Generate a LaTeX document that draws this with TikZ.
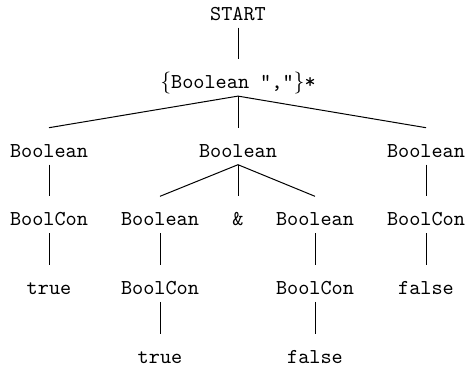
\documentclass[tikz,border=0pt]{standalone}
\usetikzlibrary{calc}
\begin{document}
\begin{tikzpicture}[x=0.5pt,y=-0.5pt,
  lab/.style={inner sep=0pt, anchor=base, font=\fontsize{10.6}{12}\selectfont\ttfamily},
  conn/.style={line width=0.5pt}]
\useasboundingbox (0,0) rectangle (465,371);
% row baselines
\def\ra{20}\def\rb{88.6}\def\rc{157.2}\def\rd{225.8}\def\re{294.4}\def\rf{363}
\node[lab] (start) at (238,\ra) {START};
\node[lab] (set) at (238,\rb) {$\{$Boolean ","$\}$*};
\node[lab] (b1) at (49,\rc) {Boolean};
\node[lab] (b2) at (238,\rc) {Boolean};
\node[lab] (b3) at (426,\rc) {Boolean};
\node[lab] (bc1) at (49,\rd) {BoolCon};
\node[lab] (b21) at (160,\rd) {Boolean};
\node[lab] (amp) at (238,\rd) {\&};
\node[lab] (b22) at (315,\rd) {Boolean};
\node[lab] (bc3) at (426,\rd) {BoolCon};
\node[lab] (t1) at (49,\re) {true};
\node[lab] (bc21) at (160,\re) {BoolCon};
\node[lab] (bc22) at (315,\re) {BoolCon};
\node[lab] (f3) at (426,\re) {false};
\node[lab] (t2) at (160,\rf) {true};
\node[lab] (f2) at (315,\rf) {false};
\newcommand\treeedge[2]{\draw[conn] ($(#1.base)+(0,7.5)$) -- ($(#2.base)+(0,-29.5)$);}
\treeedge{start}{set}
\treeedge{set}{b1}
\treeedge{set}{b2}
\treeedge{set}{b3}
\treeedge{b1}{bc1}
\treeedge{b2}{b21}
\treeedge{b2}{amp}
\treeedge{b2}{b22}
\treeedge{b3}{bc3}
\treeedge{bc1}{t1}
\treeedge{b21}{bc21}
\treeedge{b22}{bc22}
\treeedge{bc3}{f3}
\treeedge{bc21}{t2}
\treeedge{bc22}{f2}
\end{tikzpicture}
\end{document}
